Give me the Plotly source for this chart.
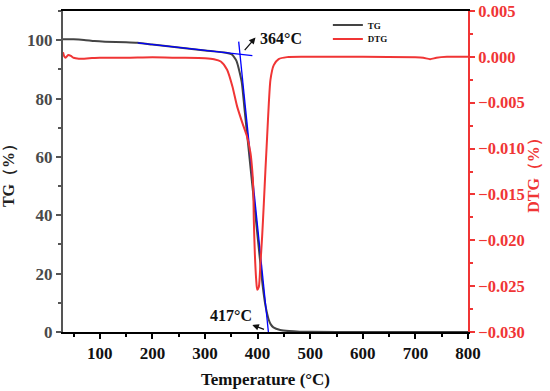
import plotly.graph_objects as go

# ---------------- data ----------------
temp_tg = [30, 50, 70, 90, 110, 150, 172, 200, 250, 300, 340, 350, 355, 360, 365,
           370, 375, 380, 385, 390, 395, 400, 405, 410, 415, 421, 425, 430, 443,
           460, 480, 500, 600, 700, 800]
tg = [100.3, 100.3, 100.1, 99.7, 99.5, 99.3, 99.1, 98.5, 97.5, 96.5, 95.7, 95.2, 94.3,
      92.8, 89.6, 85.4, 76.6, 67.8, 59.0, 50.2, 41.5, 32.7, 23.9, 15.3, 9.0, 4.3,
      2.6, 1.6, 0.7, 0.3, 0.1, 0.05, 0.0, 0.0, 0.0]

temp_dtg = [30, 32, 35, 40, 45, 50, 60, 80, 100, 150, 200, 250, 300, 317, 330, 342,
            352, 361, 371, 380, 386.5, 389.7, 391.6, 392.8, 394.7, 397.3, 399.2,
            402.3, 405.4, 408.6, 411.8, 414.9, 418.1, 421.3, 424.4, 430.7, 440, 456,
            500, 600, 700, 715, 728, 740, 760, 800]
dtg = [0.0005, 0.0001, -0.0001, 0.0002, 0.0001, -0.0001, -0.0002, -0.00015, -0.0001,
       -0.0001, -0.00005, -0.0001, -0.00015, -0.00025, -0.0005, -0.0014, -0.0032,
       -0.0054, -0.0072, -0.0087, -0.0105, -0.0123, -0.0141, -0.0178, -0.0214,
       -0.0243, -0.0254, -0.0251, -0.0225, -0.0196, -0.0160, -0.0123, -0.0087,
       -0.0051, -0.0025, -0.0009, -0.00025, -0.00003, 0.0, 0.0, -0.00005, -0.0001,
       -0.00025, -0.0001, 0.0, 0.0]

# tangent lines (onset construction)
tangent_base_x = [172, 390]
tangent_base_y = [99.1, 94.7]
tangent_steep_x = [364, 420.5]
tangent_steep_y = [99.5, 0.0]

onset_label = "364°C"
end_label = "417°C"

x_ticks = [100, 200, 300, 400, 500, 600, 700, 800]

# ---------------- figure ----------------
FONT = "Liberation Serif, Times New Roman, serif"
RED = "#f03535"
GRAY = "#444444"

fig = go.Figure()

fig.add_trace(go.Scatter(
    x=temp_dtg, y=dtg, name="DTG", yaxis="y2", mode="lines", legend="legend2",
    line=dict(color=RED, width=2, shape="spline", smoothing=0.6)))
fig.add_trace(go.Scatter(
    x=temp_tg, y=tg, name="TG", mode="lines", legend="legend",
    line=dict(color=GRAY, width=2, shape="spline", smoothing=0.6)))
fig.add_trace(go.Scatter(
    x=tangent_base_x, y=tangent_base_y, mode="lines", showlegend=False,
    line=dict(color="#0000ff", width=1.3)))
fig.add_trace(go.Scatter(
    x=tangent_steep_x, y=tangent_steep_y, mode="lines", showlegend=False,
    line=dict(color="#0000ff", width=1.3)))

legend_font = dict(family=FONT, size=9, color="#111111", weight="bold")
legend_common = dict(x=0.654, xanchor="left", yanchor="middle",
                     bgcolor="rgba(0,0,0,0)", borderwidth=0, font=legend_font)

fig.update_layout(
    width=550, height=391,
    margin=dict(l=63, r=82, t=11, b=59, autoexpand=False),
    paper_bgcolor="white", plot_bgcolor="white",
    showlegend=True,
    legend=dict(y=0.956, **legend_common),
    legend2=dict(y=0.913, **legend_common),
    xaxis=dict(
        range=[30, 800], tickvals=x_ticks, showgrid=False, zeroline=False,
        automargin=False,
        showline=True, linecolor="black", linewidth=2, mirror=True,
        ticks="outside", ticklen=5, tickwidth=1.5, tickcolor="black",
        minor=dict(dtick=50, tick0=0, ticks="outside", ticklen=3, tickwidth=1.5,
                   tickcolor="black"),
        tickfont=dict(family=FONT, size=17, color="#111111", weight="bold"),
        title=dict(text="Temperature (°C)", standoff=11,
                   font=dict(family=FONT, size=17, color="#111111", weight="bold")),
    ),
    yaxis=dict(
        range=[0, 110], dtick=20, tick0=0, showgrid=False, zeroline=False,
        automargin=False,
        showline=True, linecolor="#555555", linewidth=2,
        ticks="outside", ticklen=5, tickwidth=1.5, tickcolor="#555555",
        minor=dict(dtick=10, tick0=0, ticks="outside", ticklen=3, tickwidth=1.5,
                   tickcolor="#555555"),
        tickfont=dict(family=FONT, size=17, color="#4a4a4a", weight="bold"),
        title=dict(text="TG（%）", standoff=10,
                   font=dict(family=FONT, size=16, color="#222222", weight="bold")),
    ),
    yaxis2=dict(
        overlaying="y", side="right", range=[-0.030, 0.005], dtick=0.005,
        tick0=0, tickformat=".3f", showgrid=False, zeroline=False,
        automargin=False,
        showline=True, linecolor=RED, linewidth=2,
        ticks="outside", ticklen=5, tickwidth=1.5, tickcolor=RED,
        minor=dict(dtick=0.0025, ticks="outside", ticklen=3, tickwidth=1.5,
                   tickcolor=RED),
        tickfont=dict(family=FONT, size=16.5, color=RED, weight="bold"),
        title=dict(text="DTG（%）", standoff=4,
                   font=dict(family=FONT, size=16, color=RED, weight="bold")),
    ),
)

# annotations: labels and arrows
fig.add_annotation(x=401, y=100.5, xref="x", yref="y", text=onset_label,
                   showarrow=False, xanchor="left", yanchor="middle",
                   font=dict(family=FONT, size=16, color="#111111", weight="bold"))
fig.add_annotation(x=396, y=100.9, xref="x", yref="y", ax=373, ay=96.1,
                   axref="x", ayref="y", text="", showarrow=True,
                   arrowhead=2, arrowsize=1, arrowwidth=1.3, arrowcolor="#111111")
fig.add_annotation(x=306, y=5.8, xref="x", yref="y", text=end_label,
                   showarrow=False, xanchor="left", yanchor="middle",
                   font=dict(family=FONT, size=16, color="#111111", weight="bold"))
fig.add_annotation(x=390, y=2.4, xref="x", yref="y", ax=415, ay=0.7,
                   axref="x", ayref="y", text="", showarrow=True,
                   arrowhead=2, arrowsize=1, arrowwidth=1.3, arrowcolor="#111111")

fig.write_html("out.html", config={"displayModeBar": False},
               post_script="document.body.style.margin='0';")
